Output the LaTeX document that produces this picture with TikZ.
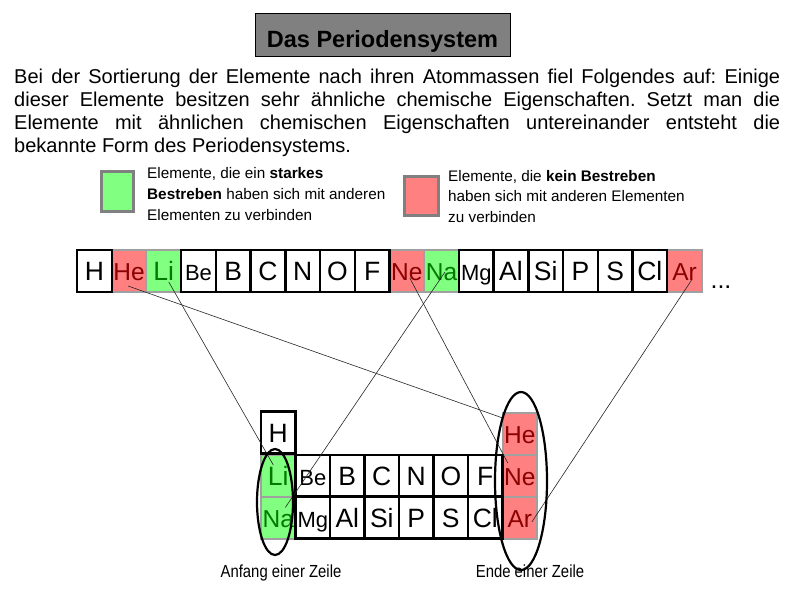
\documentclass[tikz,border=0pt]{standalone}
\usepackage{fontspec}
\setmainfont{Liberation Sans}
\usetikzlibrary{calc}
\definecolor{cellred}{HTML}{FF8080}
\definecolor{cellgreen}{HTML}{80FF80}
\definecolor{txtred}{HTML}{8B0000}
\definecolor{txtgreen}{HTML}{007A00}
\definecolor{cellgray}{HTML}{A0A0A0}
\definecolor{titlegray}{HTML}{808080}
\definecolor{boxgray}{HTML}{808080}
\tikzset{
  cell/.style={rectangle, minimum width=34.7pt, minimum height=42pt, inner sep=0pt,
    text height=19pt, text depth=0pt, font=\fontsize{26.5}{26.5}\selectfont},
  wcell/.style={cell, draw=black, line width=2.5pt, fill=white},
  rcell/.style={cell, draw=cellgray, line width=2pt, fill=cellred, text=txtred},
  gcell/.style={cell, draw=cellgray, line width=2pt, fill=cellgreen, text=txtgreen},
  smallsym/.style={font=\fontsize{22}{22}\selectfont},
  midsym/.style={font=\fontsize{24.5}{24.5}\selectfont},
  link/.style={draw=black!85, line width=0.6pt},
  ring/.style={draw=black, line width=2.2pt},
  legtext/.style={anchor=base west, inner sep=0pt, font=\fontsize{15.3}{15.3}\selectfont},
  legbox/.style={rectangle, draw=boxgray, line width=3pt, inner sep=0pt},
  bcell/.style={minimum width=34.5pt},
  rowlabel/.style={anchor=base, inner sep=0pt, font=\fontsize{17.5}{17.5}\selectfont},
}
\begin{document}
\frenchspacing
\begin{tikzpicture}[x=1pt,y=-1pt]
\useasboundingbox (0,0) rectangle (794,595);
\fill[white] (0,0) rectangle (794,595);

% title
\node[rectangle, draw=black, line width=1pt, fill=titlegray, minimum width=255pt, minimum height=43pt,
  inner sep=0pt, text height=26.4pt, text depth=0pt, font=\bfseries\fontsize{23.5}{23.5}\selectfont]
  (title) at (382.5,34.5) {Das Periodensystem};

% paragraph
\node[anchor=north west, inner sep=0pt, text width=766pt, align=justify,
  font=\fontsize{20}{23.2}\selectfont\frenchspacing] (para) at (14,68.5)
  {Bei der Sortierung der Elemente nach ihren Atommassen fiel Folgendes auf: Einige\linebreak
   dieser Elemente besitzen sehr ähnliche chemische Eigenschaften. Setzt man die\linebreak
   Elemente mit ähnlichen chemischen Eigenschaften untereinander entsteht die\linebreak
   bekannte Form des Periodensystems.};

% legend
\node[legbox, fill=cellgreen, minimum width=32pt, minimum height=40pt] (lgG) at (117.5,191.5) {};
\node[legtext] (lgG1) at (147,178) {Elemente, die ein \textbf{starkes}};
\node[legtext] (lgG2) at (147,199) {\textbf{Bestreben} haben sich mit anderen};
\node[legtext] (lgG3) at (147,220) {Elementen zu verbinden};
\node[legbox, fill=cellred, minimum width=34pt, minimum height=39pt] (lgR) at (421.5,196) {};
\node[legtext] (lgR1) at (448,181) {Elemente, die \textbf{kein Bestreben}};
\node[legtext] (lgR2) at (448,201.5) {haben sich mit anderen Elementen};
\node[legtext] (lgR3) at (448,222) {zu verbinden};

% top row: colored cells
\node[rcell, midsym] (tHe) at (129.1,271) {He};
\node[gcell] (tLi) at (163.8,271) {Li};
\node[rcell, midsym] (tNe) at (406.8,271) {Ne};
\node[gcell, midsym] (tNa) at (441.5,271) {Na};
\node[rcell, midsym] (tAr) at (684.6,271) {Ar};
% top row: white cells
\node[wcell] (tH) at (94.4,271) {H};
\node[wcell, smallsym] (tBe) at (198.5,271) {Be};
\node[wcell] (tB) at (233.2,271) {B};
\node[wcell] (tC) at (268.0,271) {C};
\node[wcell] (tN) at (302.7,271) {N};
\node[wcell] (tO) at (337.4,271) {O};
\node[wcell] (tF) at (372.1,271) {F};
\node[wcell, smallsym] (tMg) at (476.3,271) {Mg};
\node[wcell] (tAl) at (511.0,271) {Al};
\node[wcell] (tSi) at (545.7,271) {Si};
\node[wcell] (tP) at (580.4,271) {P};
\node[wcell] (tS) at (615.1,271) {S};
\node[wcell] (tCl) at (649.8,271) {Cl};
\node[anchor=base, inner sep=0pt, font=\fontsize{25}{25}\selectfont] (dots) at (721,288) {...};

% bottom table: colored cells
\node[gcell, bcell] (bLi) at (278.3,476) {Li};
\node[gcell, bcell, midsym] (bNa) at (278.3,517.5) {Na};
\node[rcell, bcell, midsym] (bHe) at (519.8,433.5) {He};
\node[rcell, bcell, midsym] (bNe) at (519.8,476) {Ne};
\node[rcell, bcell, midsym] (bAr) at (519.8,517.5) {Ar};
% bottom table: white cells
\node[wcell, bcell] (bH) at (278.3,432.5) {H};
\node[wcell, bcell, smallsym] (bBe) at (312.8,476) {Be};
\node[wcell, bcell] (bB) at (347.3,476) {B};
\node[wcell, bcell] (bC) at (381.8,476) {C};
\node[wcell, bcell] (bN) at (416.3,476) {N};
\node[wcell, bcell] (bO) at (450.8,476) {O};
\node[wcell, bcell] (bF) at (485.3,476) {F};
\node[wcell, bcell, smallsym] (bMg) at (312.8,517.5) {Mg};
\node[wcell, bcell] (bAl) at (347.3,517.5) {Al};
\node[wcell, bcell] (bSi) at (381.8,517.5) {Si};
\node[wcell, bcell] (bP) at (416.3,517.5) {P};
\node[wcell, bcell] (bS) at (450.8,517.5) {S};
\node[wcell, bcell] (bCl) at (485.3,517.5) {Cl};

% connectors
\draw[link] ($(tHe.center)+(-1,15)$) -- ($(bHe.center)+(-17,-15.5)$);
\draw[link] ($(tLi.center)+(5,11)$) -- ($(bLi.center)+(-5,-11)$);
\draw[link] ($(tNa.center)+(3.5,1)$) -- ($(bNa.center)+(7,-10)$);
\draw[link] ($(tNe.center)+(3,7)$) -- ($(bNe.center)+(-12,-13)$);
\draw[link] ($(tAr.center)+(7,9)$) -- ($(bAr.center)+(12,4.5)$);

% rings
\coordinate (ringL) at (275,502);
\coordinate (ringR) at (521,481);
\draw[ring] (ringL) ellipse [x radius=18, y radius=53];
\draw[ring] (ringR) ellipse [x radius=26, y radius=89];

% labels
\node[rowlabel] (labL) at (281,577) {\scalebox{0.85}[1]{Anfang einer Zeile}};
\node[rowlabel] (labR) at (530,577) {\scalebox{0.85}[1]{Ende einer Zeile}};
\end{tikzpicture}
\end{document}
